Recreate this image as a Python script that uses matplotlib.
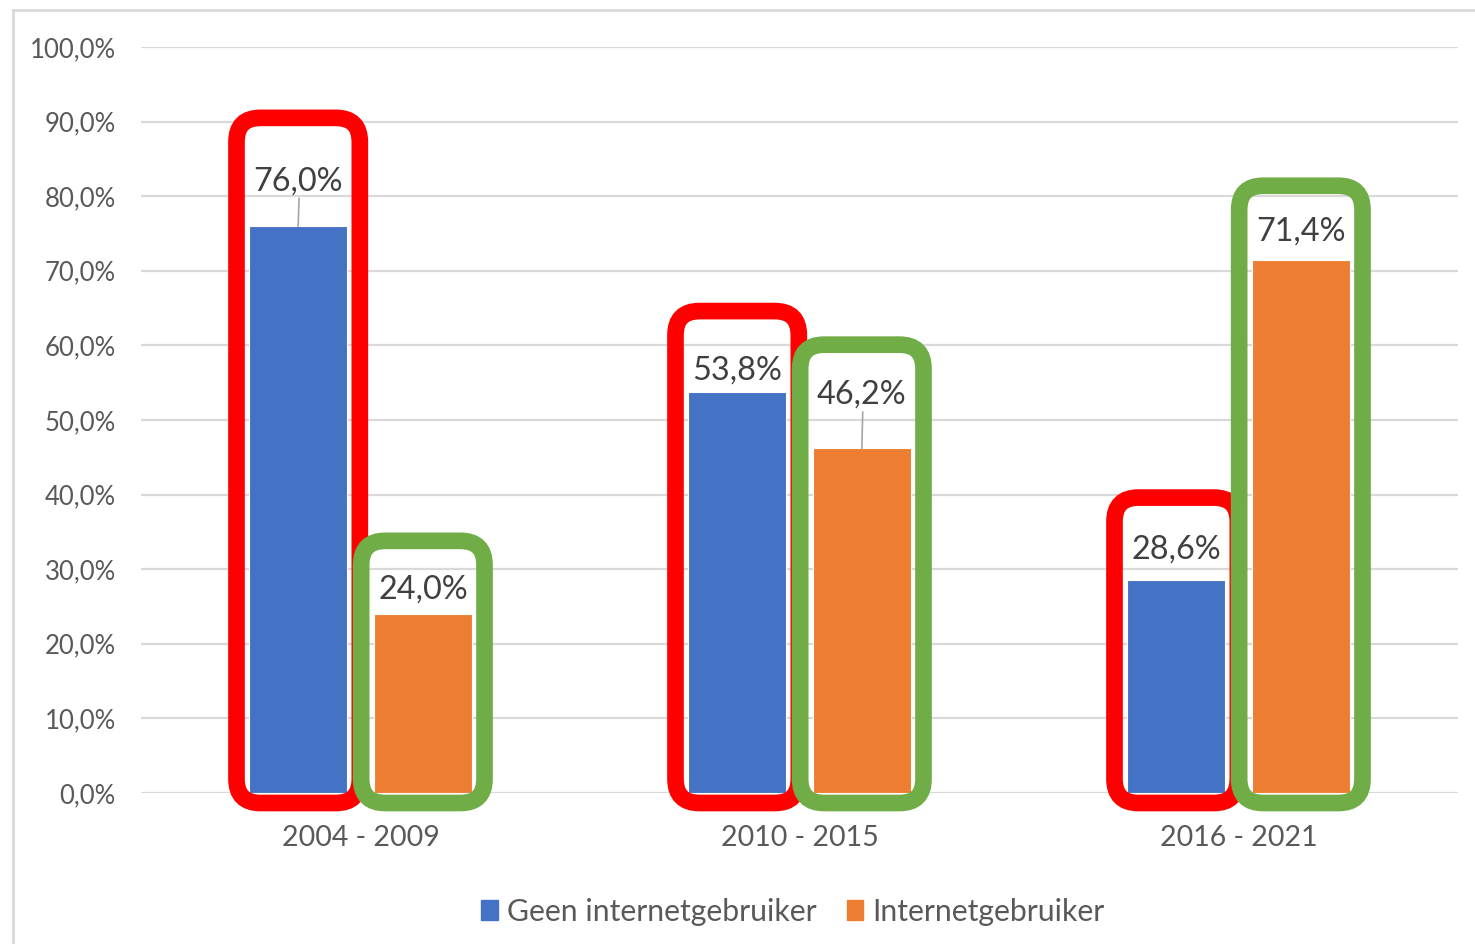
import matplotlib
matplotlib.use("Agg")
import matplotlib.pyplot as plt
from matplotlib.patches import FancyBboxPatch, Patch
from matplotlib.lines import Line2D
from matplotlib.ticker import MultipleLocator, FuncFormatter

# ---- data ----
categories = ["2004 - 2009", "2010 - 2015", "2016 - 2021"]
geen_internet = [76.0, 53.8, 28.6]
internet = [24.0, 46.2, 71.4]
series_names = ["Geen internetgebruiker", "Internetgebruiker"]

# ---- style / layout ----
BLUE = "#4472C4"
ORANGE = "#ED7D31"
RED = "#FF0000"
GREEN = "#70AD47"
GRID = "#D9D9D9"
FONT = "Lato"

# label lift above bar top (in % units)
lift_blue = [6.0, 2.8, 4.1]
lift_orange = [3.3, 7.15, 3.9]
# highlight box top (stroke centre, in % units)
box_top_blue = [90.5, 64.6, 39.6]
box_top_orange = [33.8, 60.1, 81.4]

W, H = 1475, 944
fig = plt.figure(figsize=(W / 100, H / 100), dpi=100)
ax_l, ax_r, ax_b, ax_t = 141, 1458, 793, 47
ax = fig.add_axes([ax_l / W, (H - ax_b) / H, (ax_r - ax_l) / W, (ax_b - ax_t) / H])

ax.set_xlim(-0.5, 2.5)
ax.set_ylim(0, 100)
px_x = (ax_r - ax_l) / 3.0
px_y = (ax_b - ax_t) / 100.0

offset = 0.142
width = 0.224
xs = list(range(len(categories)))
blue_x = [x - offset for x in xs]
orange_x = [x + offset for x in xs]

ax.bar(blue_x, geen_internet, width, color=BLUE, edgecolor="#FFFFFF", linewidth=0.8, zorder=3)
ax.bar(orange_x, internet, width, color=ORANGE, edgecolor="#FFFFFF", linewidth=0.8, zorder=3)


def label(x, v, lift):
    y = v + lift
    ax.text(x, y, f"{v:.1f}%".replace(".", ","), ha="center", va="center",
            fontsize=23.3, family=FONT, color="#404040", zorder=6)
    if lift > 5:
        ax.plot([x, x + 0.002], [v, y - 2.3], color="#A6A6A6", lw=1.2, zorder=5)


pad_x = 12.5 / px_x
bottom = -10 / px_y
rsize = 24 / px_x
aspect = px_x / px_y


def box(xc, top, color):
    x0 = xc - width / 2 - pad_x
    x1 = xc + width / 2 + pad_x
    p = FancyBboxPatch((x0, bottom), x1 - x0, top - bottom,
                       boxstyle=f"round,pad=0,rounding_size={rsize}",
                       mutation_aspect=aspect, facecolor="none",
                       edgecolor=color, linewidth=12, zorder=7, clip_on=False)
    ax.add_patch(p)


for i in xs:
    label(blue_x[i], geen_internet[i], lift_blue[i])
    label(orange_x[i], internet[i], lift_orange[i])
    box(blue_x[i], box_top_blue[i], RED)
for i in xs:
    box(orange_x[i], box_top_orange[i], GREEN)

# axes styling
ax.yaxis.set_major_locator(MultipleLocator(10))
ax.yaxis.set_major_formatter(FuncFormatter(lambda v, p: f"{v:.1f}%".replace(".", ",")))
ax.grid(axis="y", color=GRID, lw=1.6, zorder=0)
ax.set_axisbelow(True)
for s in ax.spines.values():
    s.set_visible(False)
ax.set_xticks(xs)
ax.set_xticklabels(categories)
ax.tick_params(axis="y", length=0, pad=18, labelsize=18.5, labelcolor="#595959")
ax.tick_params(axis="x", length=0, pad=23, labelsize=20.5, labelcolor="#595959")
for t in ax.get_xticklabels() + ax.get_yticklabels():
    t.set_family(FONT)

# chart border
fig.add_artist(Line2D([13 / W, 13 / W], [0, 1 - 10 / H], color="#D9D9D9", lw=2))
fig.add_artist(Line2D([13 / W, 1], [1 - 10 / H, 1 - 10 / H], color="#D9D9D9", lw=2))

handles = [Patch(color=BLUE), Patch(color=ORANGE)]
leg = fig.legend(handles, series_names, loc="center", bbox_to_anchor=(793 / W, 1 - 912 / H),
                 ncol=2, frameon=False, prop={"family": FONT, "size": 21.7},
                 handlelength=0.55, handleheight=0.65, handletextpad=0.3, columnspacing=1.0)
for t in leg.get_texts():
    t.set_color("#595959")

fig.savefig("out.png", dpi=100)
